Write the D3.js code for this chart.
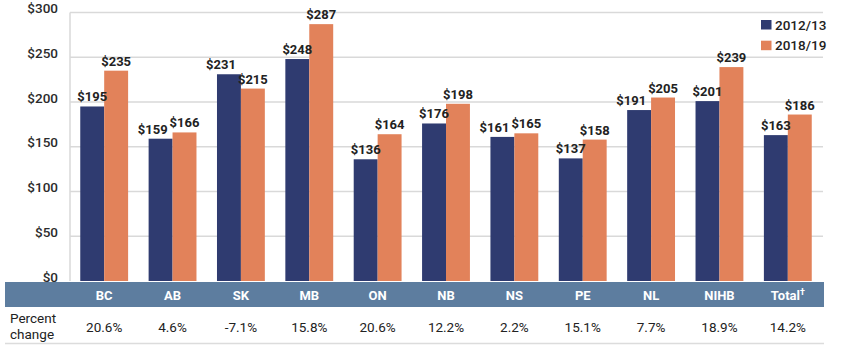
<!DOCTYPE html>
<html>
<head>
<meta charset="utf-8">
<script src="https://cdn.jsdelivr.net/npm/d3@7"></script>
<style>
  body { margin: 0; background: #fff; }
  text { font-family: Roboto, "Noto Sans", sans-serif; }
</style>
</head>
<body>
<div id="chart"></div>
<script>
// categories and values
var provinces = ["BC", "AB", "SK", "MB", "ON", "NB", "NS", "PE", "NL", "NIHB", "Total"]
var y2012 = [195, 159, 231, 248, 136, 176, 161, 137, 191, 201, 163]
var y2018 = [235, 166, 215, 287, 164, 198, 165, 158, 205, 239, 186]
var pctChange = ["20.6%", "4.6%", "-7.1%", "15.8%", "20.6%", "12.2%", "2.2%", "15.1%", "7.7%", "18.9%", "14.2%"]
var seriesNames = ["2012/13", "2018/19"]
var yTicks = [0, 50, 100, 150, 200, 250, 300]

var colors = ["#2f3b70", "#e2825a"]

var svg = d3.select("#chart")
  .append("svg")
  .attr("width", 842)
  .attr("height", 350)

// scales
var x = d3.scaleBand()
  .domain(provinces)
  .range([70, 822])
  .paddingInner(0.3)
  .paddingOuter(0.15)

var x1 = d3.scaleBand()
  .domain(seriesNames)
  .range([0, x.bandwidth()])

var y = d3.scaleLinear()
  .domain([0, 300])
  .range([281, 12.5])

// grid lines
svg.append("g")
  .selectAll("line")
  .data(yTicks.slice(1))
  .enter()
  .append("line")
  .attr("x1", 70)
  .attr("x2", 823)
  .attr("y1", function (d) { return y(d) })
  .attr("y2", function (d) { return y(d) })
  .attr("stroke", "#d9d9d9")
  .attr("stroke-width", 1.5)

// left axis line
svg.append("line")
  .attr("x1", 70).attr("x2", 70)
  .attr("y1", y(300)).attr("y2", y(0))
  .attr("stroke", "#d9d9d9")
  .attr("stroke-width", 1.5)

// y tick labels
svg.append("g")
  .selectAll("text")
  .data(yTicks)
  .enter()
  .append("text")
  .attr("x", 58)
  .attr("y", function (d) { return y(d) - 4 })
  .attr("dy", "0.35em")
  .attr("text-anchor", "end")
  .attr("font-size", 13.5)
  .attr("font-weight", 500)
  .attr("fill", "#2b2b2b")
  .text(function (d) { return "$" + d })

// bars
var rows = provinces.map(function (p, i) {
  return { cat: p, vals: [{ s: seriesNames[0], v: y2012[i] }, { s: seriesNames[1], v: y2018[i] }] }
})

var groups = svg.append("g")
  .selectAll("g")
  .data(rows)
  .enter()
  .append("g")
  .attr("transform", function (d) { return "translate(" + x(d.cat) + ",0)" })

groups.selectAll("rect")
  .data(function (d) { return d.vals })
  .enter()
  .append("rect")
  .attr("x", function (d) { return x1(d.s) })
  .attr("width", x1.bandwidth())
  .attr("y", function (d) { return y(d.v) })
  .attr("height", function (d) { return y(0) - y(d.v) })
  .attr("fill", function (d, i) { return colors[i] })

// value labels
groups.selectAll("text")
  .data(function (d) { return d.vals })
  .enter()
  .append("text")
  .attr("class", "val")
  .attr("x", function (d) { return x1(d.s) + x1.bandwidth() / 2 })
  .attr("y", function (d) { return y(d.v) - 5 })
  .attr("text-anchor", "middle")
  .attr("font-size", 13)
  .attr("font-weight", 700)
  .attr("fill", "#222")
  .text(function (d) { return "$" + d.v })

// nudge the 2012/13 label left when the two labels collide
groups.each(function () {
  var labels = d3.select(this).selectAll("text.val").nodes()
  var a = labels[0].getBBox(), b = labels[1].getBBox()
  var overlapX = a.x + a.width - b.x
  var overlapY = Math.min(a.y + a.height, b.y + b.height) - Math.max(a.y, b.y)
  if (overlapX > 0 && overlapY > 0) {
    d3.select(labels[0]).attr("x", +d3.select(labels[0]).attr("x") - overlapX - 2)
  }
})

// category band
svg.append("rect")
  .attr("x", 5)
  .attr("y", 282)
  .attr("width", 819)
  .attr("height", 25)
  .attr("fill", "#5d7d9f")

var catText = svg.append("g")
  .selectAll("text")
  .data(provinces)
  .enter()
  .append("text")
  .attr("x", function (d) { return x(d) + x.bandwidth() / 2 })
  .attr("y", 295)
  .attr("dy", "0.35em")
  .attr("text-anchor", "middle")
  .attr("font-size", 13)
  .attr("font-weight", 700)
  .attr("fill", "#fff")
  .text(function (d) { return d })

catText.filter(function (d) { return d === "Total" })
  .append("tspan")
  .attr("dy", "-0.5em")
  .attr("font-size", 9)
  .text("\u2020")

// percent change row
svg.append("text")
  .attr("x", 10).attr("y", 323)
  .attr("font-size", 13.5)
  .attr("fill", "#222")
  .text("Percent")
svg.append("text")
  .attr("x", 10).attr("y", 339)
  .attr("font-size", 13.5)
  .attr("fill", "#222")
  .text("change")

svg.append("g")
  .selectAll("text")
  .data(provinces)
  .enter()
  .append("text")
  .attr("x", function (d) { return x(d) + x.bandwidth() / 2 })
  .attr("y", 327)
  .attr("dy", "0.35em")
  .attr("text-anchor", "middle")
  .attr("font-size", 13.5)
  .attr("fill", "#222")
  .text(function (d, i) { return pctChange[i] })

svg.append("line")
  .attr("x1", 5).attr("x2", 824)
  .attr("y1", 343.5).attr("y2", 343.5)
  .attr("stroke", "#dcdcdc")
  .attr("stroke-width", 1.5)

// legend
var legend = svg.append("g")
  .selectAll("g")
  .data(seriesNames)
  .enter()
  .append("g")
  .attr("transform", function (d, i) { return "translate(761," + (20 + i * 20.7) + ")" })

legend.append("rect")
  .attr("width", 10.5)
  .attr("height", 9.5)
  .attr("fill", function (d, i) { return colors[i] })

legend.append("text")
  .attr("x", 14)
  .attr("y", 5)
  .attr("dy", "0.35em")
  .attr("font-size", 13.5)
  .attr("font-weight", 500)
  .attr("fill", "#222")
  .text(function (d) { return d })
</script>
</body>
</html>
